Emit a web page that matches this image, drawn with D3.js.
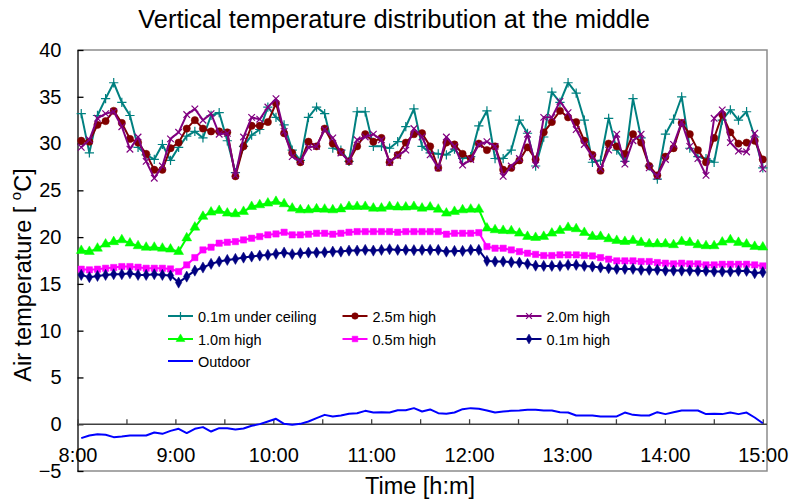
<!DOCTYPE html>
<html>
<head>
<meta charset="utf-8">
<script src="https://cdn.jsdelivr.net/npm/d3@7"></script>
<style>
  body { margin: 0; background: #fff; }
  svg { font-family: Arial, "Liberation Sans", sans-serif; }
</style>
</head>
<body>
<svg width="792" height="500"></svg>
<script>
"use strict"

const seriesNames = ["0.1m under ceiling", "2.5m high", "2.0m high", "1.0m high", "0.5m high", "0.1m high", "Outdoor"]

const ceiling = [33.2, 29.0, 33.0, 34.8, 36.5, 34.4, 33.0, 29.6, 28.8, 28.3, 29.9, 28.2, 29.6, 30.8, 31.3, 30.6, 33.0, 33.3, 30.3, 26.9, 29.7, 30.9, 31.5, 33.9, 32.8, 32.0, 29.3, 28.2, 32.8,
    33.9, 33.2, 29.5, 29.3, 28.1, 33.4, 33.4, 29.7, 29.7, 29.5, 30.2, 31.8, 33.7, 29.7, 29.0, 28.9, 28.8, 29.4, 28.4, 28.6, 31.9, 33.5, 28.4, 28.4, 29.3, 32.5, 31.1, 27.6,
    30.7, 35.5, 34.4, 36.5, 35.4, 32.5, 28.0, 28.2, 32.7, 29.3, 28.1, 34.8, 30.6, 27.6, 26.2, 31.0, 32.6, 35.0, 29.5, 28.6, 28.4, 28.0, 32.5, 33.6, 32.5, 33.4, 30.7, 27.4]
const high25 = [30.3, 30.2, 32.0, 32.4, 33.5, 32.2, 30.5, 30.1, 28.9, 27.2, 27.2, 29.5, 30.1, 31.6, 32.5, 31.6, 31.3, 31.3, 31.2, 26.5, 29.7, 31.9, 31.9, 32.3, 34.3, 31.1, 29.0, 28.0, 30.2,
    29.7, 31.6, 30.0, 29.1, 28.1, 29.7, 31.0, 30.2, 30.6, 28.0, 28.8, 30.1, 31.0, 31.1, 29.7, 27.4, 30.1, 29.9, 28.9, 28.4, 30.0, 29.3, 29.7, 27.2, 27.4, 28.2, 29.6, 28.3,
    31.2, 32.3, 33.5, 32.8, 32.3, 30.3, 28.8, 27.1, 30.0, 29.7, 28.9, 31.0, 30.1, 27.6, 26.6, 28.6, 29.5, 32.2, 31.0, 29.3, 28.0, 30.6, 33.1, 31.2, 30.0, 30.1, 30.3, 28.3]
const high20 = [29.6, 30.4, 32.7, 33.2, 33.4, 31.8, 29.4, 30.7, 28.1, 26.3, 27.6, 30.5, 31.2, 33.1, 33.7, 32.5, 33.2, 31.0, 31.1, 26.6, 30.7, 32.8, 32.6, 33.9, 34.8, 31.3, 28.6, 28.1, 29.6,
    29.7, 31.5, 30.6, 29.0, 28.1, 30.4, 30.7, 31.0, 30.4, 28.0, 28.7, 29.3, 31.6, 30.7, 28.8, 27.4, 30.7, 29.7, 27.7, 28.3, 29.9, 30.2, 29.7, 26.5, 27.6, 28.4, 31.0, 27.7,
    32.8, 32.8, 34.5, 33.3, 31.5, 29.9, 28.6, 27.3, 29.3, 31.0, 27.8, 30.3, 31.0, 27.4, 26.5, 28.3, 29.9, 32.3, 29.7, 28.4, 26.6, 32.7, 33.6, 30.1, 29.2, 29.1, 31.1, 27.3]
const high10 = [18.56, 18.45, 18.8, 19.24, 19.5, 19.7, 19.35, 19.06, 18.9, 18.9, 18.8, 18.7, 18.45, 19.9, 21.05, 22.2, 22.66, 22.83, 22.55, 22.48, 22.73, 23.26, 23.44, 23.62, 23.8, 23.55, 23.08, 22.9, 22.9,
    23.0, 22.97, 22.9, 23.0, 23.26, 23.26, 23.26, 23.08, 23.08, 23.26, 23.2, 23.2, 23.26, 23.08, 23.2, 22.97, 22.55, 22.73, 22.9, 22.97, 22.97, 20.95, 20.77, 20.7, 20.66, 20.41, 20.06, 19.95,
    20.06, 20.41, 20.7, 21.02, 20.88, 20.48, 20.06, 20.06, 19.81, 19.63, 19.52, 19.63, 19.42, 19.27, 19.27, 19.27, 19.17, 19.52, 19.42, 19.17, 19.06, 19.06, 19.45, 19.7, 19.42, 19.24, 18.99, 18.92]
const high05 = [16.57, 16.5, 16.57, 16.67, 16.75, 16.85, 16.85, 16.78, 16.67, 16.67, 16.67, 16.6, 16.32, 17.03, 17.81, 18.63, 18.92, 19.35, 19.45, 19.52, 19.7, 19.88, 20.06, 20.24, 20.34, 20.52, 20.24, 20.24, 20.31,
    20.41, 20.41, 20.31, 20.41, 20.52, 20.59, 20.59, 20.59, 20.59, 20.59, 20.52, 20.59, 20.59, 20.59, 20.59, 20.59, 20.31, 20.41, 20.41, 20.41, 20.48, 18.99, 18.81, 18.81, 18.63, 18.45, 18.28, 18.15,
    18.03, 18.03, 18.1, 18.1, 18.1, 18.03, 17.99, 17.81, 17.64, 17.46, 17.46, 17.46, 17.39, 17.39, 17.28, 17.21, 17.14, 17.21, 17.14, 17.14, 17.03, 17.03, 17.1, 17.1, 17.1, 17.1, 17.03, 16.92]
const high01 = [15.96, 15.71, 15.85, 15.96, 16.03, 16.03, 16.14, 15.96, 15.96, 16.03, 15.96, 15.89, 15.14, 15.78, 16.42, 16.75, 17.14, 17.39, 17.56, 17.67, 17.81, 17.92, 18.03, 18.1, 18.21, 18.35, 18.17, 18.28, 18.35,
    18.35, 18.38, 18.45, 18.45, 18.56, 18.56, 18.63, 18.56, 18.63, 18.7, 18.63, 18.63, 18.6, 18.63, 18.63, 18.63, 18.45, 18.52, 18.52, 18.63, 18.63, 17.46, 17.39, 17.39, 17.32, 17.28, 17.14, 16.95,
    16.92, 16.92, 16.92, 17.03, 17.03, 16.92, 16.85, 16.75, 16.67, 16.6, 16.6, 16.6, 16.5, 16.5, 16.5, 16.42, 16.42, 16.42, 16.42, 16.39, 16.39, 16.32, 16.32, 16.32, 16.39, 16.39, 16.14, 16.25]
const outdoor = [-1.49, -1.2, -1.06, -1.13, -1.38, -1.31, -1.2, -1.2, -1.2, -0.88, -1.03, -0.71, -0.49, -0.95, -0.49, -0.31, -0.78, -0.42, -0.42, -0.56, -0.46, -0.17, 0.01, 0.29, 0.58, 0.04, -0.06, 0.04, 0.29, 0.65,
    1.0, 0.83, 0.93, 1.11, 1.18, 1.43, 1.25, 1.29, 1.25, 1.5, 1.5, 1.72, 1.36, 1.58,
    1.18, 1.11, 1.25, 1.61, 1.72, 1.65, 1.47, 1.25, 1.36, 1.43, 1.47, 1.54, 1.54, 1.47, 1.47, 1.29, 1.25, 0.93, 0.93, 0.93, 0.83, 0.83, 0.83, 1.25, 1.0, 0.93,
    0.93, 1.29, 1.08, 1.29, 1.47, 1.47, 1.47, 1.08, 1.11, 1.08, 1.25, 1.08, 1.25, 0.72, 0.11]

const hourLabels = ["8:00", "9:00", "10:00", "11:00", "12:00", "13:00", "14:00", "15:00"]
const yTicks = [-5, 0, 5, 10, 15, 20, 25, 30, 35, 40]

// sample times in minutes after 8:00 (about every 5 min)
const times = d3.range(ceiling.length).map(i => 2.3 + i * 4.973)

const styles = [
    { color: "#008080", symbol: d3.symbolPlus, size: 30, stroke: true },
    { color: "#800000", symbol: d3.symbolCircle, size: 42 },
    { color: "#800080", symbol: d3.symbolTimes, size: 30, stroke: true },
    { color: "#00FF00", symbol: d3.symbolTriangle, size: 42 },
    { color: "#FF00FF", symbol: d3.symbolSquare, size: 40 },
    { color: "#000080", symbol: d3.symbolDiamond, size: 36 },
    { color: "#0000FF", symbol: null },
]
const allSeries = [ceiling, high25, high20, high10, high05, high01, outdoor]

const svg = d3.select("svg")
const plotL = 77.5, plotT = 50, plotR = 767, plotB = 471

const x = d3.scaleLinear().domain([0, 422.6]).range([plotL, plotR])
const y = d3.scaleLinear().domain([-5, 40]).range([plotB, plotT])

// plot frame
svg.append("path")
    .attr("d", `M${plotL},${plotT}H${plotR}V${plotB}H${plotL}`)
    .attr("fill", "none")
    .attr("stroke", "#8c8c8c")
    .attr("stroke-width", 1.5)

// y axis
const yAxis = svg.append("g")
    .attr("transform", `translate(${plotL},0)`)
    .call(d3.axisLeft(y).tickValues(yTicks).tickSizeInner(-6).tickSizeOuter(0).tickPadding(16))
yAxis.select(".domain").attr("stroke", "#000").attr("stroke-width", 1.3)
yAxis.selectAll(".tick line").attr("stroke", "#000").attr("stroke-width", 1.3)
yAxis.selectAll("text").attr("font-size", 20).attr("fill", "#000")

// x axis on the zero line
const halfHours = d3.range(0, 421, 30)
const xAxis = svg.append("g")
    .attr("transform", `translate(0,${y(0)})`)
    .call(d3.axisBottom(x).tickValues(halfHours).tickSizeInner(-5).tickSizeOuter(0).tickPadding(24)
        .tickFormat(d => d % 60 === 0 ? hourLabels[d / 60] : ""))
xAxis.select(".domain").attr("d", `M${plotL},0H${plotR}`).attr("stroke", "#404040").attr("stroke-width", 1.5)
xAxis.selectAll(".tick line").attr("stroke", "#404040").attr("stroke-width", 1.3)
xAxis.selectAll("text").attr("font-size", 20).attr("fill", "#000")

// series
const line = d3.line().x((d, i) => x(times[i])).y(d => y(d))

allSeries.forEach((values, s) => {
    const st = styles[s]
    const g = svg.append("g")
    g.append("path")
        .datum(values)
        .attr("d", line)
        .attr("fill", "none")
        .attr("stroke", st.color)
        .attr("stroke-width", 2)
        .attr("stroke-linejoin", "round")
    if (st.symbol) {
        g.selectAll("path.mk")
            .data(values)
            .join("path")
            .attr("class", "mk")
            .attr("transform", (d, i) => `translate(${x(times[i])},${y(d)})`)
            .attr("d", d3.symbol(st.symbol, st.size))
            .attr("fill", st.stroke ? "none" : st.color)
            .attr("stroke", st.color)
            .attr("stroke-width", st.stroke ? 1.2 : 0.5)
    }
})

// legend
const legendCols = [168, 342.5, 516.5]
const legendRows = [316, 339, 361]
seriesNames.forEach((name, s) => {
    const st = styles[s]
    const lx = legendCols[s % 3], ly = legendRows[Math.floor(s / 3)]
    const g = svg.append("g").attr("transform", `translate(${lx},${ly})`)
    g.append("line").attr("x1", 0).attr("x2", 25).attr("y1", 0).attr("y2", 0)
        .attr("stroke", st.color).attr("stroke-width", 2)
    if (st.symbol) {
        g.append("path")
            .attr("transform", "translate(12.5,0)")
            .attr("d", d3.symbol(st.symbol, st.size * 0.8))
            .attr("fill", st.stroke ? "none" : st.color)
            .attr("stroke", st.color)
            .attr("stroke-width", st.stroke ? 1.2 : 0.5)
    }
    g.append("text").attr("x", 30).attr("y", 5.5)
        .attr("font-size", 14.5).text(name)
})

// titles
svg.append("text")
    .attr("x", 394).attr("y", 28)
    .attr("text-anchor", "middle")
    .attr("font-size", 25.5)
    .text("Vertical temperature distribution at the middle")

svg.append("text")
    .attr("x", 420).attr("y", 494)
    .attr("text-anchor", "middle")
    .attr("font-size", 23.5)
    .text("Time [h:m]")

const yt = svg.append("text")
    .attr("transform", "translate(31,275) rotate(-90)")
    .attr("text-anchor", "middle")
    .attr("font-size", 23.5)
yt.append("tspan").text("Air temperature [ ")
yt.append("tspan").attr("font-size", 15).attr("dy", -10).text("o")
yt.append("tspan").attr("dy", 10).text("C]")
</script>
</body>
</html>
